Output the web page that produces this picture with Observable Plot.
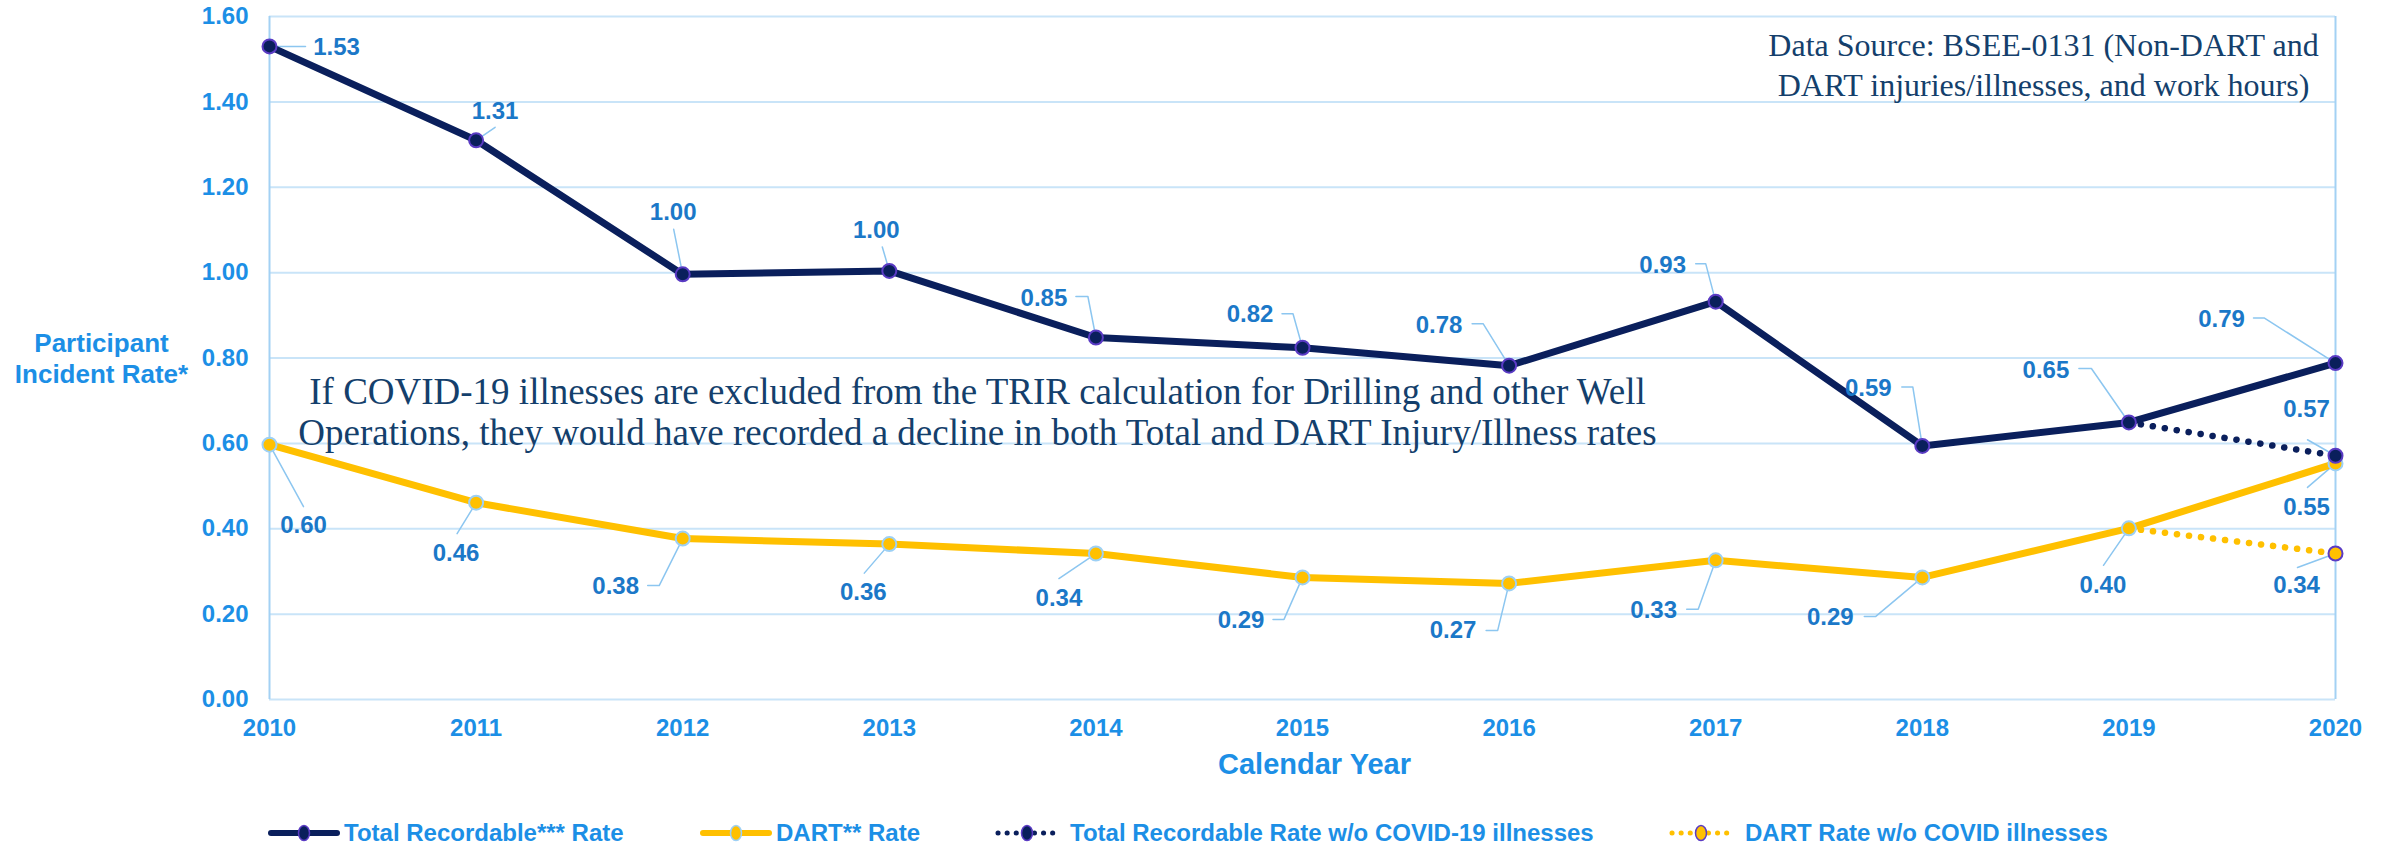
<!DOCTYPE html>
<html><head><meta charset="utf-8">
<script src="https://cdn.jsdelivr.net/npm/d3@7"></script>
<script src="https://cdn.jsdelivr.net/npm/@observablehq/plot@0.6"></script>
<style>
body{margin:0;background:#fff;width:2389px;height:847px;overflow:hidden;font-family:"Liberation Sans",Arial,sans-serif}
#legend{position:relative;height:47px;width:2389px}
#legend svg{position:absolute;top:23px}
#legend span{position:absolute;top:18px;line-height:30px;font-size:24px;font-weight:bold;color:#1C8FE6;white-space:nowrap}
</style></head><body>
<div id="chart"></div>
<div id="legend"></div>
<script>
// ---- data ----
const years = [2010, 2011, 2012, 2013, 2014, 2015, 2016, 2017, 2018, 2019, 2020];
const totalRate = [1.53, 1.31, 0.996, 1.004, 0.848, 0.824, 0.782, 0.932, 0.594, 0.649, 0.788];
const dartRate  = [0.597, 0.461, 0.377, 0.364, 0.342, 0.286, 0.272, 0.326, 0.286, 0.401, 0.553];
const noCovidYears = [2019, 2020];
const totalNoCovid = [0.649, 0.571];
const dartNoCovid  = [0.401, 0.342];
const yTicks = [0, 0.2, 0.4, 0.6, 0.8, 1.0, 1.2, 1.4, 1.6];
const seriesNames = ["Total Recordable*** Rate", "DART** Rate", "Total Recordable Rate w/o COVID-19 illnesses", "DART Rate w/o COVID illnesses"];
const yTitle = "Participant\nIncident Rate*";
const xTitle = "Calendar Year";
const sourceNote = "Data Source: BSEE-0131 (Non-DART and\nDART injuries/illnesses, and work hours)";
const covidNote = "If COVID-19 illnesses are excluded from the TRIR calculation for Drilling and other Well\nOperations, they would have recorded a decline in both Total and DART Injury/Illness rates";

// ---- label layout (pixel offsets from each point) ----
const totalLabelOff = [[67,1],[19,-29],[-9.5,-62],[-13,-41],[-52,-39],[-52.5,-33],[-70,-40],[-53,-36],[-54,-58],[-83,-52],[-114,-44]];
const totalLeader = [[[36,0]],[[19,-13]],[[-9,-45]],[[-7,-24]],[[-8,-41],[-20,-41]],[[-9.5,-34],[-20.5,-34]],[[-26,-42],[-37,-42]],[[-10,-38],[-20,-38]],[[-9.5,-59],[-20.5,-59]],[[-37.5,-54],[-50,-54]],[[-71,-45],[-82,-45]]];
const dartLabelOff = [[34,81],[-20,51],[-67,48],[-26,48],[-37,45],[-61.5,43],[-56,47],[-62,50],[-92,40],[-26,57],[-29,44]];
const dartLeader = [[[34,62]],[[-19,31]],[[-23.5,47],[-35,47]],[[-25,29]],[[-37,25]],[[-18.5,42],[-29.5,42]],[[-11.4,47],[-23,47]],[[-17.5,49],[-29,49]],[[-46.5,39],[-58,39]],[[-25.4,37]],[[-28,24]]];
const totalNoCovidLabelOff = [-29,-46], totalNoCovidLeader = [[-28,-16]];
const dartNoCovidLabelOff = [-39,32], dartNoCovidLeader = [[-38,14]];

const NAVY = "#0A1F5C", PURPLE = "#5A3BC4", GOLD = "#FFC000", LIGHT = "#9DD0F5";
const TICK = "#1C8FE6", LABEL = "#1B78C8", SERIF = "#143F6C", LEAD = "#8CC6F0";

const W = 2389, H = 800, ML = 269, MR = 54, MT = 16, MB = 101;
const X = Plot.scale({x: {type: "linear", domain: [2010, 2020], range: [ML, W - MR]}});
const Y = Plot.scale({y: {type: "linear", domain: [0, 1.6], range: [H - MB, MT]}});

const total = years.map((year, i) => ({year, value: totalRate[i]}));
const dart = years.map((year, i) => ({year, value: dartRate[i]}));
const totalNC = noCovidYears.map((year, i) => ({year, value: totalNoCovid[i]}));
const dartNC = noCovidYears.map((year, i) => ({year, value: dartNoCovid[i]}));

const labels = [];
const leaders = [];
function addLabel(d, off, lead, id) {
  const px = X.apply(d.year), py = Y.apply(d.value);
  labels.push({x: X.invert(px + off[0]), y: Y.invert(py + off[1]), text: d.value.toFixed(2)});
  leaders.push({id, x: d.year, y: d.value});
  lead.forEach(p => leaders.push({id, x: X.invert(px + p[0]), y: Y.invert(py + p[1])}));
}
total.forEach((d, i) => addLabel(d, totalLabelOff[i], totalLeader[i], "t" + i));
dart.forEach((d, i) => addLabel(d, dartLabelOff[i], dartLeader[i], "d" + i));
addLabel(totalNC[1], totalNoCovidLabelOff, totalNoCovidLeader, "tn");
addLabel(dartNC[1], dartNoCovidLabelOff, dartNoCovidLeader, "dn");

const bold = {fontSize: 24, fontWeight: "bold"};
const serif = "'Liberation Serif', 'Times New Roman', serif";

const chart = Plot.plot({
  width: W, height: H,
  marginLeft: ML, marginRight: MR, marginTop: MT, marginBottom: MB,
  style: {fontFamily: "'Liberation Sans', Arial, sans-serif", color: TICK, background: "#fff", overflow: "visible"},
  x: {domain: [2010, 2020]},
  y: {domain: [0, 1.6]},
  marks: [
    Plot.ruleY(yTicks, {stroke: "#C9E4F8", strokeWidth: 2}),
    Plot.ruleX([2010, 2020], {stroke: "#A3D1F4", strokeWidth: 2}),
    Plot.axisY({ticks: yTicks, tickFormat: d => d.toFixed(2), tickSize: 0, tickPadding: 21, label: null, ...bold}),
    Plot.axisX({ticks: years, tickFormat: d => String(d), tickSize: 0, tickPadding: 19, label: null, ...bold}),
    Plot.text([yTitle], {text: d => d, frameAnchor: "left", dx: -168, textAnchor: "middle", lineAnchor: "middle", lineHeight: 1.19, fontSize: 26, fontWeight: "bold", fill: TICK}),
    Plot.text([xTitle], {text: d => d, frameAnchor: "bottom", dx: 12, dy: 65, textAnchor: "middle", lineAnchor: "middle", fontSize: 29, fontWeight: "bold", fill: TICK}),
    Plot.text([sourceNote], {text: d => d, frameAnchor: "top-right", dx: -292, dy: 47, textAnchor: "middle", lineAnchor: "middle", lineHeight: 1.25, fontSize: 32, fontFamily: serif, fill: SERIF}),
    Plot.text([covidNote], {text: d => d, frameAnchor: "top-left", dx: 708, dy: 395, textAnchor: "middle", lineAnchor: "middle", lineHeight: 1.1, fontSize: 37, fontFamily: serif, fill: SERIF}),
    Plot.line(leaders, {x: "x", y: "y", z: "id", stroke: LEAD, strokeWidth: 1.5}),
    Plot.line(dart, {x: "year", y: "value", stroke: GOLD, strokeWidth: 7}),
    Plot.line(dartNC, {x: "year", y: "value", stroke: GOLD, strokeWidth: 6.5, strokeDasharray: "0.1 12", strokeLinecap: "round"}),
    Plot.line(total, {x: "year", y: "value", stroke: NAVY, strokeWidth: 7}),
    Plot.line(totalNC, {x: "year", y: "value", stroke: NAVY, strokeWidth: 6.5, strokeDasharray: "0.1 12", strokeLinecap: "round"}),
    Plot.dot(dart, {x: "year", y: "value", r: 7, fill: GOLD, stroke: LIGHT, strokeWidth: 2}),
    Plot.dot(dartNC.slice(1), {x: "year", y: "value", r: 7, fill: GOLD, stroke: PURPLE, strokeWidth: 2}),
    Plot.dot(totalNC.slice(1), {x: "year", y: "value", r: 7, fill: NAVY, stroke: PURPLE, strokeWidth: 2}),
    Plot.dot(total, {x: "year", y: "value", r: 7, fill: NAVY, stroke: PURPLE, strokeWidth: 2}),
    Plot.text(labels, {x: "x", y: "y", text: "text", fill: LABEL, ...bold})
  ]
});
document.getElementById("chart").appendChild(chart);

// ---- legend ----
const legendItems = [
  {name: seriesNames[0], color: NAVY, marker: NAVY, ring: PURPLE, dotted: false, left: 268, w: 72, text: 344},
  {name: seriesNames[1], color: GOLD, marker: GOLD, ring: LIGHT, dotted: false, left: 700, w: 72, text: 776},
  {name: seriesNames[2], color: NAVY, marker: NAVY, ring: PURPLE, dotted: true, left: 995, w: 64, text: 1070},
  {name: seriesNames[3], color: GOLD, marker: GOLD, ring: PURPLE, dotted: true, left: 1669, w: 64, text: 1745}
];
const leg = d3.select("#legend");
legendItems.forEach(it => {
  const s = leg.append("svg").attr("width", it.w).attr("height", 20).style("left", it.left + "px");
  s.append("line").attr("x1", 3).attr("x2", it.w - 3).attr("y1", 10).attr("y2", 10)
    .attr("stroke", it.color).attr("stroke-width", it.dotted ? 5 : 6).attr("stroke-linecap", "round")
    .attr("stroke-dasharray", it.dotted ? "0.1 9" : null);
  s.append("ellipse").attr("cx", it.w / 2).attr("cy", 10).attr("rx", 5.5).attr("ry", 7.5)
    .attr("fill", it.marker).attr("stroke", it.ring).attr("stroke-width", 1.5);
  leg.append("span").style("left", it.text + "px").text(it.name);
});
</script>
</body></html>
